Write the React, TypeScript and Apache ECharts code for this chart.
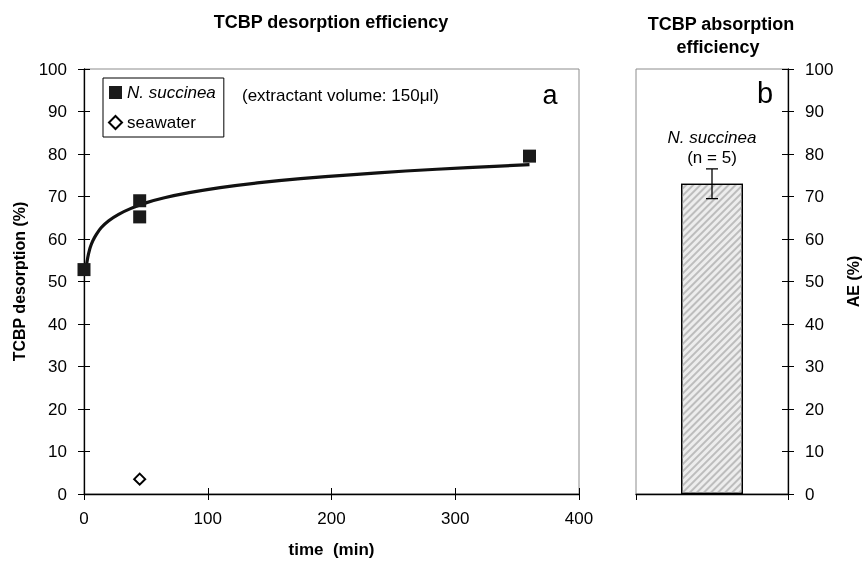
import React, { useEffect, useRef } from "react";
import * as echarts from "echarts";

// ---- data ----
const nsTime = [0, 45, 45, 360];
const nsDesorption = [52.8, 69, 65.2, 79.5];
const swTime = [45];
const swDesorption = [3.5];
// trend curve, points
const fitTime = [1.5, 2, 3, 4, 5, 7, 10, 14, 20, 28, 38, 50, 65, 85, 110, 140, 175, 215, 260, 310, 360];
const fitDesorption = [52.5, 53.8, 55.6, 56.9, 58.0, 59.5, 61.1, 62.7, 64.3, 65.8, 67.2, 68.5, 69.7, 70.9, 72.1, 73.2, 74.2, 75.1, 76.0, 76.8, 77.5];
const aeCategories = ["N. succinea"];
const aeValues = [73];
const aeErrors = [3.5];

const FONT = "'Liberation Sans', Arial, Helvetica, sans-serif";
const GREY = "#8c8c8c";

export default function App() {
  const ref = useRef<HTMLDivElement>(null);
  useEffect(() => {
    if (!ref.current) return;
    const chart = echarts.init(ref.current, undefined, { renderer: "svg" });
    const lbl = { color: "#000", fontSize: 17, fontFamily: FONT };
    const nameStyle = { color: "#000", fontSize: 16, fontWeight: "bold" as const, fontFamily: FONT };
    const line = { show: true, lineStyle: { color: "#000", width: 1.3 } };
    chart.setOption({
      animation: false,
      textStyle: { fontFamily: FONT },
      grid: [
        { left: 84, right: 283, top: 69, bottom: 69, show: true, borderColor: GREY, borderWidth: 1 },
        { left: 636, right: 73, top: 69, bottom: 69, show: true, borderColor: GREY, borderWidth: 1 },
      ],
      xAxis: [
        {
          gridIndex: 0, type: "value", min: 0, max: 400, interval: 100, position: "bottom",
          axisLine: line, axisTick: { show: true, length: 6, lineStyle: { color: "#000" } },
          axisLabel: { ...lbl, margin: 16 }, splitLine: { show: false },
          name: "time  (min)", nameLocation: "middle", nameGap: 47, nameTextStyle: { ...nameStyle, fontSize: 17 },
        },
        {
          gridIndex: 0, type: "value", min: 0, max: 400, interval: 100, position: "bottom",
          axisLine: { show: false }, axisTick: { show: true, inside: true, length: 6, lineStyle: { color: "#000" } },
          axisLabel: { show: false }, splitLine: { show: false },
        },
        {
          gridIndex: 1, type: "category", data: aeCategories, position: "bottom",
          axisLine: line, axisTick: { show: true, length: 6, lineStyle: { color: "#000" } },
          axisLabel: { show: false },
        },
      ],
      yAxis: [
        {
          gridIndex: 0, type: "value", min: 0, max: 100, interval: 10, position: "left",
          axisLine: line, axisTick: { show: true, length: 6, lineStyle: { color: "#000" } },
          axisLabel: { ...lbl, margin: 17 }, splitLine: { show: false },
          name: "TCBP desorption (%)", nameLocation: "middle", nameGap: 57, nameRotate: 90, nameTextStyle: nameStyle,
        },
        {
          gridIndex: 0, type: "value", min: 0, max: 100, interval: 10, position: "left",
          axisLine: { show: false }, axisTick: { show: true, inside: true, length: 6, lineStyle: { color: "#000" } },
          axisLabel: { show: false }, splitLine: { show: false },
        },
        {
          gridIndex: 1, type: "value", min: 0, max: 100, interval: 10, position: "right",
          axisLine: line, axisTick: { show: true, length: 6, lineStyle: { color: "#000" } },
          axisLabel: { ...lbl, margin: 17 }, splitLine: { show: false },
          name: "AE (%)", nameLocation: "middle", nameGap: 57, nameRotate: 90, nameTextStyle: nameStyle,
        },
        {
          gridIndex: 1, type: "value", min: 0, max: 100, interval: 10, position: "right",
          axisLine: { show: false }, axisTick: { show: true, inside: true, length: 6, lineStyle: { color: "#000" } },
          axisLabel: { show: false }, splitLine: { show: false },
        },
      ],
      legend: {
        data: [
          { name: "N. succinea", icon: "rect" },
          { name: "seawater", icon: "diamond" },
        ],
        orient: "vertical",
        left: 103, top: 78,
        itemWidth: 13, itemHeight: 13, itemGap: 13,
        padding: [6, 8, 6, 5],
        borderColor: "#000", borderWidth: 1,
        selectedMode: false,
        formatter: (n: string) => (n === "N. succinea" ? "{i|N. succinea}" : n),
        textStyle: {
          color: "#000", fontSize: 17, fontFamily: FONT,
          rich: { i: { fontStyle: "italic", fontSize: 17, fontFamily: FONT, color: "#000" } },
        },
      },
      series: [
        {
          name: "fit", type: "line", xAxisIndex: 0, yAxisIndex: 0,
          data: fitTime.map((t, i) => [t, fitDesorption[i]]),
          smooth: 0.3, showSymbol: false, symbol: "none",
          lineStyle: { color: "#111", width: 3.2 }, z: 2,
        },
        {
          name: "N. succinea", type: "scatter", xAxisIndex: 0, yAxisIndex: 0,
          data: nsTime.map((t, i) => [t, nsDesorption[i]]),
          symbol: "rect", symbolSize: 13, itemStyle: { color: "#1a1a1a", opacity: 1 }, z: 3,
        },
        {
          name: "seawater", type: "scatter", xAxisIndex: 0, yAxisIndex: 0,
          data: swTime.map((t, i) => [t, swDesorption[i]]),
          symbol: "diamond", symbolSize: 11,
          itemStyle: { color: "#fff", borderColor: "#000", borderWidth: 2, opacity: 1 }, z: 3,
        },
        {
          name: "AE", type: "bar", xAxisIndex: 2, yAxisIndex: 2,
          data: aeValues, barWidth: 62,
          itemStyle: {
            color: "#ededed", borderColor: "#000", borderWidth: 1.3,
            decal: {
              symbol: "rect", symbolSize: 1, dashArrayX: [[1, 0]], dashArrayY: [2, 2.5],
              rotation: -Math.PI / 4, color: "#bdbdbd",
            },
          },
          label: {
            show: true, position: "top", distance: 16,
            formatter: "{i|N. succinea}\n{n|(n = 5)}",
            rich: {
              i: { fontStyle: "italic", fontSize: 17, fontFamily: FONT, color: "#000", lineHeight: 20, align: "center" },
              n: { fontSize: 17, fontFamily: FONT, color: "#000", lineHeight: 20, align: "center" },
            },
          },
        },
        {
          name: "AE error", type: "custom", xAxisIndex: 2, yAxisIndex: 2,
          data: aeValues.map((v, i) => [i, v - aeErrors[i], v + aeErrors[i]]),
          renderItem: (params: any, api: any) => {
            const lo = api.coord([api.value(0), api.value(1)]);
            const hi = api.coord([api.value(0), api.value(2)]);
            const w = 6;
            const st = { stroke: "#000", lineWidth: 1.3 };
            return {
              type: "group",
              children: [
                { type: "line", shape: { x1: hi[0], y1: hi[1], x2: lo[0], y2: lo[1] }, style: st },
                { type: "line", shape: { x1: hi[0] - w, y1: hi[1], x2: hi[0] + w, y2: hi[1] }, style: st },
                { type: "line", shape: { x1: lo[0] - w, y1: lo[1], x2: lo[0] + w, y2: lo[1] }, style: st },
              ],
            };
          },
          z: 5,
        },
      ],
      graphic: [
        { type: "text", x: 331, y: 22, style: { text: "TCBP desorption efficiency", align: "center", verticalAlign: "middle", fontSize: 18, fontWeight: "bold", fontFamily: FONT, fill: "#000" } },
        { type: "text", x: 721, y: 24, style: { text: "TCBP absorption", align: "center", verticalAlign: "middle", fontSize: 18, fontWeight: "bold", fontFamily: FONT, fill: "#000" } },
        { type: "text", x: 718, y: 47, style: { text: "efficiency", align: "center", verticalAlign: "middle", fontSize: 18, fontWeight: "bold", fontFamily: FONT, fill: "#000" } },
        { type: "text", x: 242, y: 95, style: { text: "(extractant volume: 150μl)", align: "left", verticalAlign: "middle", fontSize: 17, fontFamily: FONT, fill: "#000" } },
        { type: "text", x: 550, y: 95, style: { text: "a", align: "center", verticalAlign: "middle", fontSize: 27, fontFamily: FONT, fill: "#000" } },
        { type: "text", x: 765, y: 93, style: { text: "b", align: "center", verticalAlign: "middle", fontSize: 29, fontFamily: FONT, fill: "#000" } },
      ],
    });
    return () => chart.dispose();
  }, []);
  return <div ref={ref} style={{ position: "fixed", left: 0, top: 0, width: 862, height: 563 }} />;
}
